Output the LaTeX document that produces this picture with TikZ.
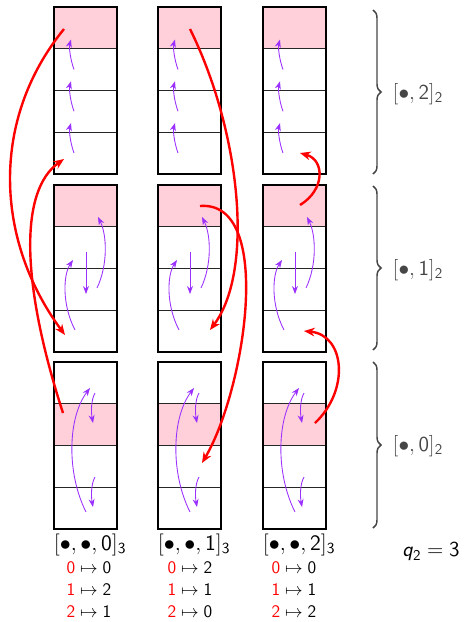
\RequirePackage{fix-cm}
\documentclass[tikz,border=0pt]{standalone}
\usetikzlibrary{arrows.meta,decorations.pathreplacing}
\definecolor{pinkc}{RGB}{255,208,218}
\definecolor{purp}{RGB}{155,48,255}
\definecolor{braceg}{RGB}{70,70,70}
\begin{document}
\begin{tikzpicture}[x=0.75pt,y=-0.75pt,
  box/.style={draw,line width=2pt,inner sep=0pt,outer sep=0pt,minimum width=47.25pt,minimum height=125.25pt,anchor=north west},
  sep/.style={line width=0.6pt,black!85},
  parr/.style={purp,line width=0.65pt,-{Stealth[length=6pt,width=4.5pt]}},
  rarr/.style={red,line width=1.8pt,-{Stealth[length=8pt,width=6.5pt]}},
  br/.style={decorate,decoration={brace,amplitude=6pt},line width=1.1pt,braceg},
  blab/.style={anchor=west,text=braceg,font=\fontsize{16}{19}\selectfont},
  clab/.style={font=\fontsize{16.5}{19}\selectfont},
  mlab/.style={font=\fontsize{13.2}{15}\selectfont},
  qlab/.style={font=\fontsize{16}{19}\selectfont}
]
\useasboundingbox (0,0) rectangle (464,622);

% boxes
\foreach \c/\L in {0/54,1/158,2/263} {
  \foreach \r/\T/\p in {0/7/0,1/185/0,2/362/1} {
    \fill[pinkc] (\L,\T+\p*41.75) rectangle (\L+63,\T+\p*41.75+41.75);
    \foreach \k in {1,2,3} \draw[sep] (\L,\T+\k*41.75) -- (\L+63,\T+\k*41.75);
    \node[box] (b\c\r) at (\L,\T) {};
  }
}

% purple arrows
\foreach \c in {0,1,2} {
  \foreach \k in {0,1,2} {
    \draw[parr] ([shift={(20,146-\k*41.75)}]b\c0.north west)
      .. controls ([shift={(16,135-\k*41.75)}]b\c0.north west) and ([shift={(15,123-\k*41.75)}]b\c0.north west)
      .. ([shift={(17,116-\k*41.75)}]b\c0.north west);
  }
  \draw[parr] ([shift={(21,145)}]b\c1.north west)
    .. controls ([shift={(8,120)}]b\c1.north west) and ([shift={(9,90)}]b\c1.north west)
    .. ([shift={(19,75)}]b\c1.north west);
  \draw[parr] ([shift={(32,67)}]b\c1.north west) -- ([shift={(32,109)}]b\c1.north west);
  \draw[parr] ([shift={(43,103)}]b\c1.north west)
    .. controls ([shift={(54,80)}]b\c1.north west) and ([shift={(53,50)}]b\c1.north west)
    .. ([shift={(44,32)}]b\c1.north west);
  \draw[parr] ([shift={(32,150)}]b\c2.north west)
    .. controls ([shift={(12,110)}]b\c2.north west) and ([shift={(14,55)}]b\c2.north west)
    .. ([shift={(36,26)}]b\c2.north west);
  \draw[parr] ([shift={(41,31)}]b\c2.north west)
    .. controls ([shift={(37,38)}]b\c2.north west) and ([shift={(37,50)}]b\c2.north west)
    .. ([shift={(39,61)}]b\c2.north west);
  \draw[parr] ([shift={(41,115)}]b\c2.north west)
    .. controls ([shift={(37,122)}]b\c2.north west) and ([shift={(37,134)}]b\c2.north west)
    .. ([shift={(39,145)}]b\c2.north west);
}

% red arrows endpoints
\coordinate (a1) at (64,29);   \coordinate (a2) at (65,335);
\coordinate (b1) at (63,413);  \coordinate (b2) at (64,159);
\coordinate (c1) at (190,29);  \coordinate (c2) at (210,330);
\coordinate (d1) at (200,206); \coordinate (d2) at (202,463);
\coordinate (e1) at (300,205); \coordinate (e2) at (300,153);
\coordinate (f1) at (315,423); \coordinate (f2) at (304,331);

\draw[rarr] (a1) .. controls (-10,120) and (-5,240) .. (a2);
\draw[rarr] (b1) .. controls (20,280) and (20,190) .. (b2);
\draw[rarr] (c1) .. controls (240,130) and (255,270) .. (c2);
\draw[rarr] (d1) .. controls (275,200) and (245,390) .. (d2);
\draw[rarr] (e1) .. controls (325,190) and (325,160) .. (e2);
\draw[rarr] (f1) .. controls (350,390) and (345,335) .. (f2);

% braces
\coordinate (t2) at (373,10);  \coordinate (u2) at (373,174);
\coordinate (t1) at (373,186); \coordinate (u1) at (373,350);
\coordinate (t0) at (373,362); \coordinate (u0) at (373,528);
\draw[br] (t2) -- (u2);
\draw[br] (t1) -- (u1);
\draw[br] (t0) -- (u0);
\node[blab] (L2) at (388,94) {$[\bullet,\mathsf{2}]_{\mathsf{2}}$};
\node[blab] (L1) at (388,270) {$[\bullet,\mathsf{1}]_{\mathsf{2}}$};
\node[blab] (L0) at (388,446) {$[\bullet,\mathsf{0}]_{\mathsf{2}}$};

% bottom labels
\node[clab] (k0) at (90,545) {$[\bullet,\bullet,\mathsf{0}]_{\mathsf{3}}$};
\node[clab] (k1) at (194,545) {$[\bullet,\bullet,\mathsf{1}]_{\mathsf{3}}$};
\node[clab] (k2) at (299,545) {$[\bullet,\bullet,\mathsf{2}]_{\mathsf{3}}$};

\node[mlab] (m00) at (89,568) {$\textcolor{red}{\mathsf{0}}\mapsto\mathsf{0}$};
\node[mlab] (m01) at (89,590) {$\textcolor{red}{\mathsf{1}}\mapsto\mathsf{2}$};
\node[mlab] (m02) at (89,612) {$\textcolor{red}{\mathsf{2}}\mapsto\mathsf{1}$};
\node[mlab] (m10) at (190,568) {$\textcolor{red}{\mathsf{0}}\mapsto\mathsf{2}$};
\node[mlab] (m11) at (190,590) {$\textcolor{red}{\mathsf{1}}\mapsto\mathsf{1}$};
\node[mlab] (m12) at (190,612) {$\textcolor{red}{\mathsf{2}}\mapsto\mathsf{0}$};
\node[mlab] (m20) at (294,568) {$\textcolor{red}{\mathsf{0}}\mapsto\mathsf{0}$};
\node[mlab] (m21) at (294,590) {$\textcolor{red}{\mathsf{1}}\mapsto\mathsf{1}$};
\node[mlab] (m22) at (294,612) {$\textcolor{red}{\mathsf{2}}\mapsto\mathsf{2}$};

\node[qlab] (q) at (431,552) {\textsf{\textsl{q}}$_{\mathsf{2}}=\mathsf{3}$};
\end{tikzpicture}
\end{document}
